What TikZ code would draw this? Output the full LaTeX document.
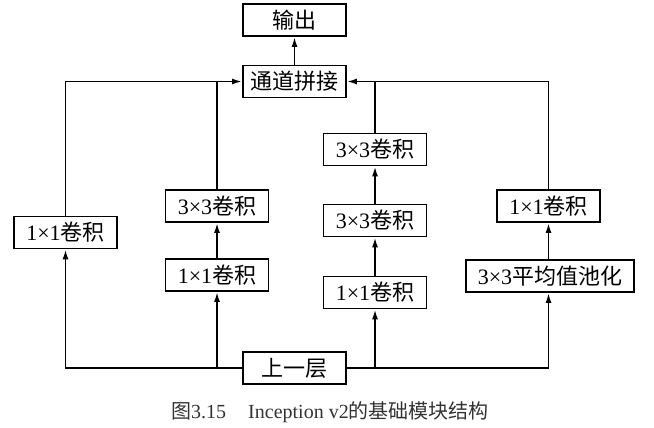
\documentclass[tikz,border=0pt]{standalone}
\usepackage{fontspec}
\setmainfont{Liberation Serif}
\newfontfamily\cjk{Noto Sans CJK SC}
\usetikzlibrary{arrows.meta}

\begin{document}
\begin{tikzpicture}[x=0.5pt, y=-0.5pt, line width=0.9pt,
    block/.style={draw, rectangle, minimum width=51.5pt, minimum height=16pt,
        inner xsep=6pt, inner ysep=0pt, font=\fontsize{11}{13}\selectfont},
    arr/.style={-{Latex[length=5pt, width=3pt]}}]

    \useasboundingbox (0,0) rectangle (654,428);

    % Top
    \node[block] (out) at (294.5,20) {\cjk 输出};
    \node[block, inner xsep=3pt] (concat) at (294.5,81.5) {\cjk 通道拼接};

    % Branches
    \node[block] (b1) at (65.5,232.5) {1×1{\cjk 卷积}};

    \node[block] (b2top) at (217,206) {3×3{\cjk 卷积}};
    \node[block] (b2bot) at (217,275) {1×1{\cjk 卷积}};

    \node[block] (b3top) at (375,149.5) {3×3{\cjk 卷积}};
    \node[block] (b3mid) at (375,220.5) {3×3{\cjk 卷积}};
    \node[block] (b3bot) at (375,292.5) {1×1{\cjk 卷积}};

    \node[block] (b4top) at (548.5,206) {1×1{\cjk 卷积}};
    \node[block] (b4bot) at (550,276) {3×3{\cjk 平均值池化}};

    % Bottom
    \node[block] (prev) at (294.5,368) {\cjk 上一层};

    \draw[arr] (concat) -- (out);

    % from previous layer
    \draw[arr] (prev.west) -| (b1.south);
    \draw[arr] (prev.west -| b2bot.south) -- (b2bot.south);
    \draw[arr] (prev.east) -| (b4bot.south -| b4top.south);
    \draw[arr] (prev.east -| b3bot.south) -- (b3bot.south);

    % inside branches
    \draw[arr] (b2bot) -- (b2top);
    \draw[arr] (b3bot) -- (b3mid);
    \draw[arr] (b3mid) -- (b3top);
    \draw[arr] (b4bot.north -| b4top.south) -- (b4top.south);

    % to concat
    \draw[arr] (b1.north) |- (concat.west);
    \draw (b2top.north) -- (b2top.north |- concat.west);
    \draw[arr] (b4top.north) |- (concat.east);
    \draw (b3top.north) -- (b3top.north |- concat.east);

    % Caption
    \node[text=black!80, font=\fontsize{10}{12}\selectfont] (cap) at (330,412)
        {{\cjk 图}3.15\hspace{1.1em}Inception v2{\cjk 的基础模块结构}};

\end{tikzpicture}
\end{document}
